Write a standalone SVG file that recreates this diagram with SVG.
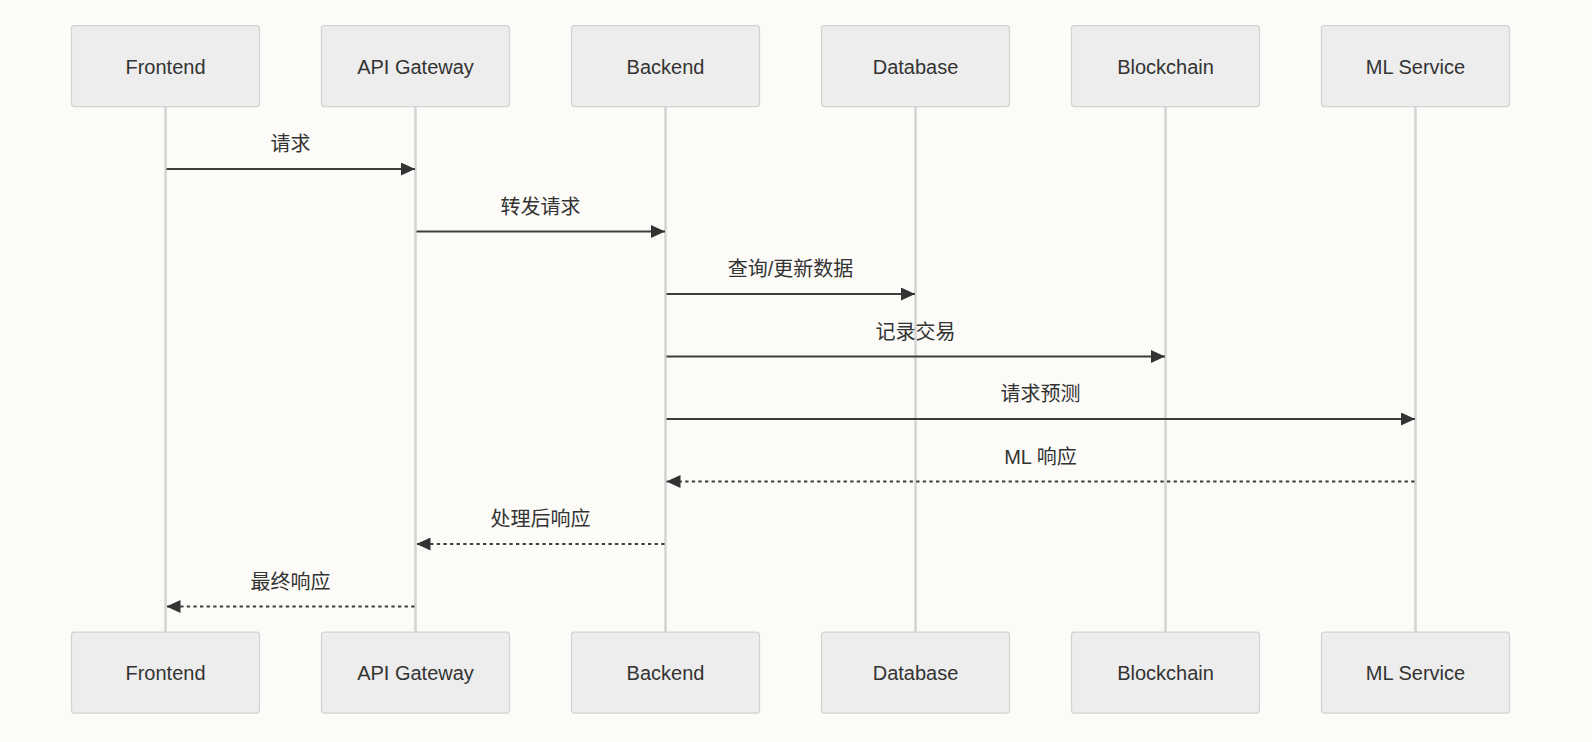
<svg xmlns="http://www.w3.org/2000/svg" width="1592" height="742" viewBox="0 0 1592 742">
<style>
.bg{fill:#fcfbf8}
.actor rect{fill:#ededed;stroke:#d3d3d3;stroke-width:1.25}
.actor text{font-family:"Liberation Sans","Noto Sans CJK SC",sans-serif;font-size:20px;fill:#333;text-anchor:middle}
.life{stroke:#d3d3d3;stroke-width:2.5}
.msg{stroke:#3d3d3d;stroke-width:2;fill:none}
.dash{stroke-dasharray:3.3,3.3}
.lbl{font-family:"Liberation Sans","Noto Sans CJK SC",sans-serif;font-size:20px;fill:#333;text-anchor:middle}
</style>
<defs>
<marker id="ah" viewBox="0 0 14 13" refX="14" refY="6.5" markerWidth="14" markerHeight="13" markerUnits="userSpaceOnUse" orient="auto">
<path d="M0,0 L14,6.5 L0,13 Z" fill="#333"/>
</marker>
</defs>
<rect class="bg" x="0" y="0" width="1592" height="742"/>
<g id="lifelines">
<line class="life" x1="165.5" y1="106" x2="165.5" y2="632"/>
<line class="life" x1="415.5" y1="106" x2="415.5" y2="632"/>
<line class="life" x1="665.5" y1="106" x2="665.5" y2="632"/>
<line class="life" x1="915.5" y1="106" x2="915.5" y2="632"/>
<line class="life" x1="1165.5" y1="106" x2="1165.5" y2="632"/>
<line class="life" x1="1415.5" y1="106" x2="1415.5" y2="632"/>
</g>
<g id="actor-frontend" class="actor">
<rect x="71.5" y="25.5" width="188" height="81" rx="3"/><text x="165.5" y="73.5">Frontend</text>
<rect x="71.5" y="632" width="188" height="81" rx="3"/><text x="165.5" y="680">Frontend</text>
</g>
<g id="actor-gateway" class="actor">
<rect x="321.5" y="25.5" width="188" height="81" rx="3"/><text x="415.5" y="73.5">API Gateway</text>
<rect x="321.5" y="632" width="188" height="81" rx="3"/><text x="415.5" y="680">API Gateway</text>
</g>
<g id="actor-backend" class="actor">
<rect x="571.5" y="25.5" width="188" height="81" rx="3"/><text x="665.5" y="73.5">Backend</text>
<rect x="571.5" y="632" width="188" height="81" rx="3"/><text x="665.5" y="680">Backend</text>
</g>
<g id="actor-database" class="actor">
<rect x="821.5" y="25.5" width="188" height="81" rx="3"/><text x="915.5" y="73.5">Database</text>
<rect x="821.5" y="632" width="188" height="81" rx="3"/><text x="915.5" y="680">Database</text>
</g>
<g id="actor-blockchain" class="actor">
<rect x="1071.5" y="25.5" width="188" height="81" rx="3"/><text x="1165.5" y="73.5">Blockchain</text>
<rect x="1071.5" y="632" width="188" height="81" rx="3"/><text x="1165.5" y="680">Blockchain</text>
</g>
<g id="actor-ml" class="actor">
<rect x="1321.5" y="25.5" width="188" height="81" rx="3"/><text x="1415.5" y="73.5">ML Service</text>
<rect x="1321.5" y="632" width="188" height="81" rx="3"/><text x="1415.5" y="680">ML Service</text>
</g>
<g id="connectors">
<line class="msg" x1="166.5" y1="169" x2="415" y2="169" marker-end="url(#ah)"/>
<text class="lbl" x="290.5" y="151">请求</text>
<line class="msg" x1="416.5" y1="231.5" x2="665" y2="231.5" marker-end="url(#ah)"/>
<text class="lbl" x="540.5" y="213.5">转发请求</text>
<line class="msg" x1="666.5" y1="294" x2="915" y2="294" marker-end="url(#ah)"/>
<text class="lbl" x="790.5" y="276">查询/更新数据</text>
<line class="msg" x1="666.5" y1="356.5" x2="1165" y2="356.5" marker-end="url(#ah)"/>
<text class="lbl" x="915.5" y="338.5">记录交易</text>
<line class="msg" x1="666.5" y1="419" x2="1415" y2="419" marker-end="url(#ah)"/>
<text class="lbl" x="1040.5" y="401">请求预测</text>
<line class="msg dash" x1="1414.5" y1="481.5" x2="666.5" y2="481.5" marker-end="url(#ah)"/>
<text class="lbl" x="1040.5" y="463.5">ML 响应</text>
<line class="msg dash" x1="664.5" y1="544" x2="416.5" y2="544" marker-end="url(#ah)"/>
<text class="lbl" x="540.5" y="526">处理后响应</text>
<line class="msg dash" x1="414.5" y1="606.5" x2="166.5" y2="606.5" marker-end="url(#ah)"/>
<text class="lbl" x="290.5" y="588.5">最终响应</text>
</g>
</svg>
